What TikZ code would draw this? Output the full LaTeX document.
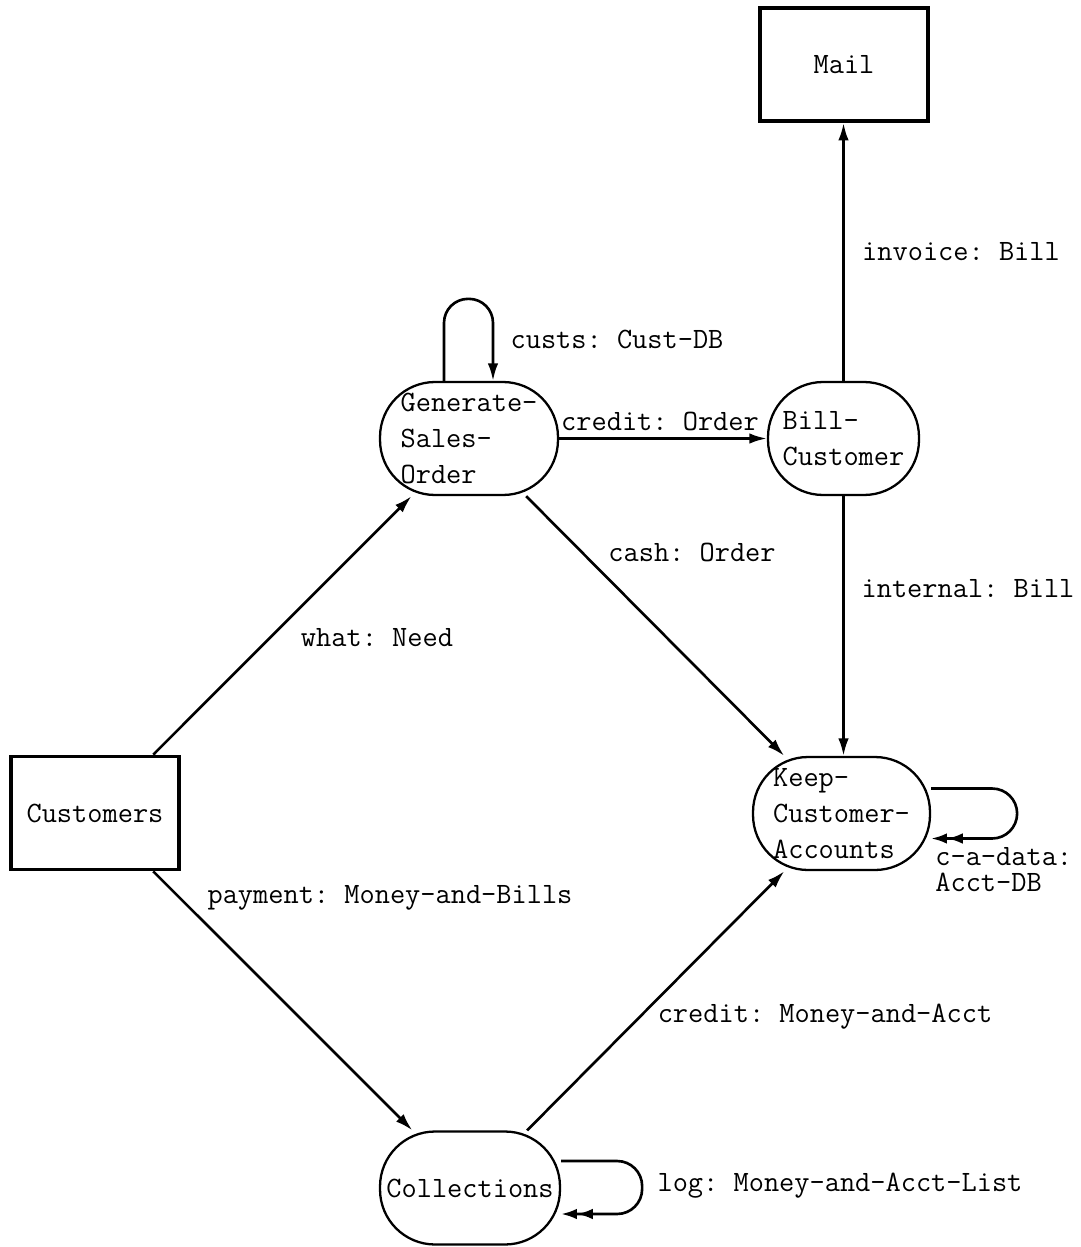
\documentclass[tikz,border=0pt]{standalone}
\usepackage{fontspec}
\usetikzlibrary{arrows.meta}
\newcommand{\dfdfont}{\ttfamily\frenchspacing\fontsize{16.8}{20.5}\selectfont}
\tikzset{
  store/.style={draw,line width=2.2pt,minimum width=3.36cm,minimum height=2.26cm,font=\dfdfont},
  proc/.style={draw,line width=1.3pt,rounded corners=1.1cm,minimum height=2.26cm,align=left,font=\dfdfont},
  flow/.style={line width=1.5pt,-{Latex[length=10pt,width=6pt]}},
  flowdb/.style={line width=1.5pt,-{Latex[length=9pt,width=6pt]Latex[length=9pt,width=6pt]}},
  lbl/.style={font=\dfdfont,inner sep=0pt}
}
\begin{document}
\begin{tikzpicture}[x=0.02cm,y=-0.02cm]
\useasboundingbox (0,0) rectangle (1081,1247);
% stores
\node[store] (mail) at (844,64.5) {Mail};
\node[store] (cust) at (95,813) {Customers};
% processes
\node[proc,minimum width=3.56cm] (gen) at (469,438.5) {Generate-\\Sales-\\Order};
\node[proc,minimum width=3.02cm] (bill) at (843.5,438.5) {Bill-\\Customer};
\node[proc,minimum width=3.54cm] (keep) at (841.5,813.5) {Keep-\\Customer-\\Accounts};
\node[proc,minimum width=3.6cm] (coll) at (470,1188) {Collections};
% flows
\draw[flow] (cust) -- (gen);
\draw[flow] (gen) -- (keep);
\draw[flow] (gen) -- (bill);
\draw[flow] (bill.north) -- (bill.north |- mail.south);
\draw[flow] (bill.south) -- (bill.south |- keep.north);
\draw[flow] (cust) -- (coll);
\draw[flow] (coll) -- (keep);
% loops
\draw[flow,rounded corners=0.48cm] ([xshift=-0.5cm]gen.north) -- ++(0,-82) -| ([xshift=0.48cm]gen.north);
\draw[flowdb,rounded corners=0.5cm] ([yshift=0.5cm]keep.east) -- ++(86,0) |- ([yshift=-0.5cm]keep.east);
\draw[flowdb,rounded corners=0.5cm] ([yshift=0.54cm]coll.east) -- ++(81,0) |- ([yshift=-0.52cm]coll.east);
% labels
\node[lbl] (whatlbl) at (377,638) {what: Need};
\node[lbl] (cashlbl) at (692,552) {cash: Order};
\node[lbl] (credlbl) at (660,421) {credit: Order};
\node[lbl] (invlbl) at (961,252) {invoice: Bill};
\node[lbl] (intlbl) at (968,589) {internal: Bill};
\node[lbl] (paylbl) at (390,898) {payment: Money-and-Bills};
\node[lbl] (macclbl) at (825,1017) {credit: Money-and-Acct};
\node[lbl] (custslbl) at (617,339) {custs: Cust-DB};
\node[lbl,anchor=north west,align=left,font=\ttfamily\fontsize{16.8}{15}\selectfont] (cadlbl) at (935,847) {c-a-data:\\Acct-DB};
\node[lbl] (loglbl) at (840,1186) {log: Money-and-Acct-List};
\end{tikzpicture}
\end{document}
